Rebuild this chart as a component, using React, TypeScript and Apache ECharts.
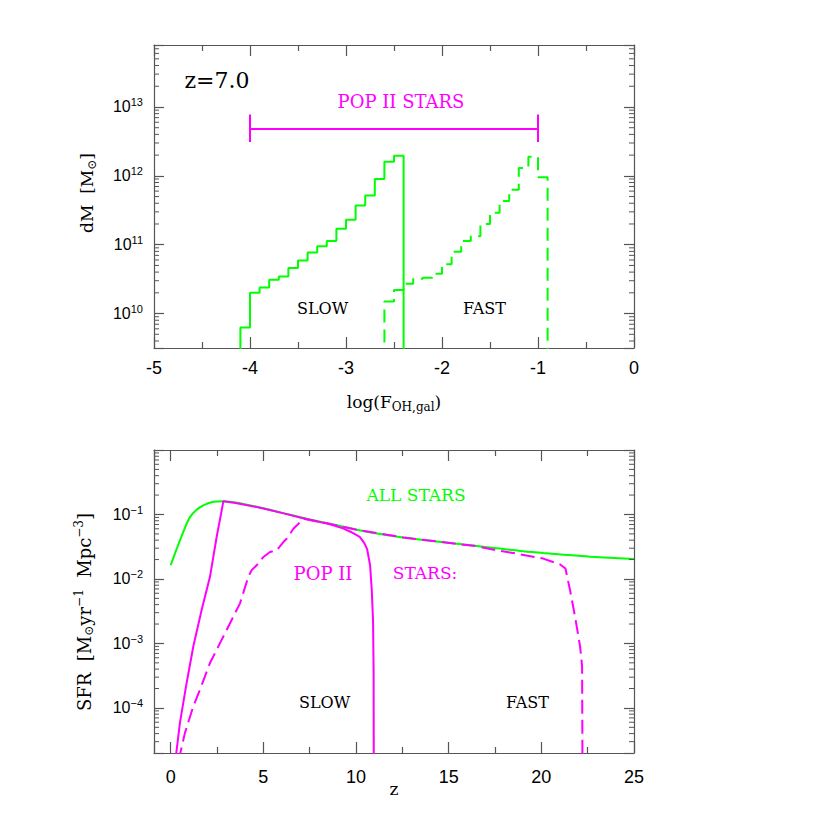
import React, { useEffect, useRef } from 'react';
import * as echarts from 'echarts';

// ---------- Top panel: mass histograms at z = 7 ----------
const slowEdges = [-4.1, -4.0, -3.9, -3.8, -3.7, -3.6, -3.5, -3.4, -3.3, -3.2, -3.1, -3.0, -2.9, -2.8, -2.7, -2.6, -2.5, -2.4];
const slowMass = [6.3e9, 2.0e10, 2.4e10, 3.1e10, 3.45e10, 4.6e10, 5.9e10, 7.7e10, 9.5e10, 1.13e11, 1.7e11, 2.3e11, 3.7e11, 5.2e11, 9.0e11, 1.6e12, 1.95e12];
const fastEdges = [-2.6, -2.5, -2.4, -2.3, -2.2, -2.1, -2.0, -1.9, -1.8, -1.7, -1.6, -1.5, -1.4, -1.3, -1.2, -1.1, -1.0, -0.9];
const fastMass = [1.5e10, 2.2e10, 2.7e10, 3.2e10, 3.3e10, 3.8e10, 5.2e10, 7.9e10, 1.13e11, 1.33e11, 2.0e11, 2.9e11, 4.3e11, 6.3e11, 1.3e12, 1.9e12, 9.5e11];
const histFloor = 1e9;
const popIIRange = [-4, -1];
const popIILevel = 4.9e12;
const popIICap = [3.1e12, 7.8e12];

const topXTicks = [-5, -4, -3, -2, -1, 0];
const topYExps = [10, 11, 12, 13];
const topYRange = [Math.pow(10, 9.5), Math.pow(10, 13.9)];

// ---------- Bottom panel: SFR vs z ----------
const allZ = [0, 0.23, 0.5, 0.77, 1.04, 1.4, 1.76, 2.3, 2.84, 3.92, 5.0, 6.08, 7.34, 8.6, 10.04, 11.47, 12.55, 13.8, 15.07, 16.33, 17.59, 18.85, 20.1, 21.37, 22.63, 25];
const allSFR = [0.0163, 0.0247, 0.0397, 0.0622, 0.091, 0.118, 0.138, 0.157, 0.160, 0.146, 0.125, 0.105, 0.0858, 0.0718, 0.058, 0.049, 0.0441, 0.0397, 0.0361, 0.0329, 0.0299, 0.0272, 0.0253, 0.0236, 0.0222, 0.0204];

const slowZ = [0.25, 0.5, 0.86, 1.22, 1.67, 2.12, 2.48, 2.75, 2.84, 3.5, 5.0, 6.1, 7.3, 8.5, 9.3, 9.7, 10.2, 10.45, 10.6, 10.76, 10.85, 10.92, 10.95, 10.96];
const slowSFR = [1.5e-5, 5.9e-5, 2.44e-4, 8.95e-4, 3.3e-3, 0.0108, 0.0447, 0.115, 0.160, 0.151, 0.124, 0.104, 0.085, 0.0715, 0.061, 0.054, 0.045, 0.036, 0.029, 0.0163, 0.0068, 0.0022, 3.5e-4, 1e-5];

const fastZ = [0.42, 0.77, 1.22, 1.58, 2.12, 2.66, 3.02, 3.29, 3.74, 4.19, 4.37, 4.64, 5.0, 5.36, 5.72, 6.08, 6.26, 6.62, 6.8, 7.16, 8.6, 10.04, 12.55, 15.07, 16.5, 17.6, 18.67, 20.1, 21.0, 21.3, 21.55, 21.82, 22.09, 22.2, 22.22];
const fastSFR = [1.5e-5, 4.1e-5, 1.06e-4, 1.92e-4, 4.97e-4, 1.01e-3, 1.62e-3, 2.31e-3, 4.19e-3, 0.0108, 0.0137, 0.0163, 0.0219, 0.0262, 0.0278, 0.0374, 0.0421, 0.0601, 0.0676, 0.0859, 0.0715, 0.058, 0.0441, 0.0361, 0.0322, 0.0278, 0.0247, 0.0207, 0.0169, 0.0145, 6.7e-3, 2.6e-3, 9e-4, 4.4e-4, 1e-5];

const botXTicks = [0, 5, 10, 15, 20, 25];
const botXRange = [-0.9, 25];
const botYExps = [-4, -3, -2, -1];
const botYRange = [2e-5, 1];

// ---------- styling ----------
const GREEN = '#00ff00';
const MAGENTA = '#ff00ff';
const AXIS = '#555';
const SERIF = '"DejaVu Serif", serif';
const SANS = '"Liberation Sans", Arial, sans-serif';

const GRID_LEFT = 154;
const GRID_W = 480;
const GRID_H = 303;
const TOP1 = 45;
const TOP2 = 450;

function stepPoints(edges: number[], vals: number[]) {
  const pts: number[][] = [[edges[0], histFloor]];
  vals.forEach((v, i) => {
    pts.push([edges[i], v]);
    pts.push([edges[i + 1], v]);
  });
  pts.push([edges[edges.length - 1], histFloor]);
  return pts;
}

function zip(a: number[], b: number[]) {
  return a.map((x, i) => [x, b[i]]);
}

function minorLogValues(range: number[]) {
  const out: number[] = [];
  const lo = Math.floor(Math.log10(range[0]));
  const hi = Math.ceil(Math.log10(range[1]));
  for (let k = lo; k <= hi; k++) {
    for (let m = 2; m <= 9; m++) {
      const v = m * Math.pow(10, k);
      if (v > range[0] && v < range[1]) out.push(v);
    }
  }
  return out;
}

const lineStyleAxis = { color: AXIS, width: 1.2 };

function logLabelFormatter(exps: number[]) {
  return (v: number) => {
    const l = Math.log10(v);
    const e = Math.round(l);
    if (Math.abs(l - e) > 1e-6 || exps.indexOf(e) < 0) return '';
    const s = e < 0 ? '\u2212' + Math.abs(e) : String(e);
    return '{b|10}{p|' + s + '}';
  };
}

const logRich = {
  b: { fontFamily: SANS, fontSize: 16, color: '#000' },
  p: { fontFamily: SANS, fontSize: 11, color: '#000', padding: [0, 0, 9, 0] },
};

function xAxes(gridIndex: number, min: number, max: number, ticks: number[], opts: any) {
  const base = {
    type: 'value',
    gridIndex,
    min,
    max,
    axisLine: { show: true, onZero: false, lineStyle: lineStyleAxis },
    axisTick: { show: true, inside: true, length: 11, lineStyle: lineStyleAxis },
    minorTick: { show: true, splitNumber: 2, length: 6, lineStyle: lineStyleAxis },
    splitLine: { show: false },
    minorSplitLine: { show: false },
    ...opts,
  };
  return [
    {
      ...base,
      position: 'bottom',
      axisLabel: {
        show: true,
        fontFamily: SANS,
        fontSize: 18,
        color: '#000',
        margin: opts.labelMargin,
        formatter: (v: number) => (ticks.indexOf(Math.round(v * 1000) / 1000) >= 0 ? String(v) : ''),
      },
    },
    { ...base, position: 'top', axisLabel: { show: false } },
  ];
}

function yAxes(gridIndex: number, range: number[], exps: number[]) {
  const base = {
    type: 'log',
    logBase: 10,
    gridIndex,
    min: range[0],
    max: range[1],
    axisLine: { show: true, onZero: false, lineStyle: lineStyleAxis },
    axisTick: { show: true, inside: true, length: 10, lineStyle: lineStyleAxis },
    minorTick: { show: false },
    splitLine: { show: false },
  };
  return [
    {
      ...base,
      position: 'left',
      axisLabel: { show: true, margin: 11, formatter: logLabelFormatter(exps), rich: logRich },
    },
    { ...base, position: 'right', axisLabel: { show: false } },
  ];
}

function minorTickSeries(xi: number, yi: number, xPos: number, vals: number[]) {
  return {
    type: 'custom',
    xAxisIndex: xi,
    yAxisIndex: yi,
    silent: true,
    clip: false,
    z: 5,
    data: vals.map((v) => [xPos, v]),
    renderItem: (params: any, api: any) => {
      const cs = params.coordSys;
      const y = api.coord([api.value(0), api.value(1)])[1];
      const st = { stroke: AXIS, lineWidth: 1 };
      return {
        type: 'group',
        children: [
          { type: 'line', shape: { x1: cs.x, y1: y, x2: cs.x + 5, y2: y }, style: st },
          { type: 'line', shape: { x1: cs.x + cs.width - 5, y1: y, x2: cs.x + cs.width, y2: y }, style: st },
        ],
      };
    },
  };
}

function txt(text: string, x: number, y: number, size: number, color: string, extra: any = {}) {
  return {
    type: 'text',
    x,
    y,
    z: 100,
    ...extra,
    style: {
      text,
      fill: color,
      font: `${size}px ${SERIF}`,
      fontFamily: SERIF,
      fontSize: size,
      align: 'center',
      verticalAlign: 'middle',
      textAlign: 'center',
      textVerticalAlign: 'middle',
      ...(extra.style || {}),
    },
  };
}

const serifRich = (size: number, sub: number, shift: number) => ({
  n: { fontFamily: SERIF, fontSize: size, color: '#000' },
  s: { fontFamily: SERIF, fontSize: sub, color: '#000', padding: [shift, 0, 0, 0] },
  p: { fontFamily: SERIF, fontSize: sub, color: '#000', padding: [0, 0, shift, 0] },
});

function buildOption() {
  return {
    animation: false,
    backgroundColor: '#fff',
    grid: [
      { left: GRID_LEFT, top: TOP1, width: GRID_W, height: GRID_H, containLabel: false },
      { left: GRID_LEFT, top: TOP2, width: GRID_W, height: GRID_H, containLabel: false },
    ],
    xAxis: [
      ...xAxes(0, -5, 0, topXTicks, { interval: 1, labelMargin: 11 }),
      ...xAxes(1, botXRange[0], botXRange[1], botXTicks, { splitNumber: 5, labelMargin: 15 }),
    ],
    yAxis: [...yAxes(0, topYRange, topYExps), ...yAxes(1, botYRange, botYExps)],
    series: [
      minorTickSeries(0, 0, -5, minorLogValues(topYRange)),
      minorTickSeries(2, 2, 0, minorLogValues(botYRange)),
      {
        type: 'line',
        name: 'slow',
        xAxisIndex: 0,
        yAxisIndex: 0,
        data: stepPoints(slowEdges, slowMass),
        showSymbol: false,
        symbol: 'none',
        lineStyle: { color: GREEN, width: 2 },
        z: 3,
      },
      {
        type: 'line',
        name: 'fast',
        xAxisIndex: 0,
        yAxisIndex: 0,
        data: stepPoints(fastEdges, fastMass),
        showSymbol: false,
        symbol: 'none',
        lineStyle: { color: GREEN, width: 2, type: [13, 7] },
        z: 3,
      },
      {
        type: 'lines',
        coordinateSystem: 'cartesian2d',
        xAxisIndex: 0,
        yAxisIndex: 0,
        lineStyle: { color: MAGENTA, width: 2, opacity: 1 },
        data: [
          { coords: [[popIIRange[0], popIILevel], [popIIRange[1], popIILevel]] },
          { coords: [[popIIRange[0], popIICap[0]], [popIIRange[0], popIICap[1]]] },
          { coords: [[popIIRange[1], popIICap[0]], [popIIRange[1], popIICap[1]]] },
        ],
        z: 3,
      },
      {
        type: 'line',
        name: 'all',
        xAxisIndex: 2,
        yAxisIndex: 2,
        data: zip(allZ, allSFR),
        showSymbol: false,
        symbol: 'none',
        smooth: 0.3,
        lineStyle: { color: GREEN, width: 2 },
        z: 2,
      },
      {
        type: 'line',
        name: 'popII slow',
        xAxisIndex: 2,
        yAxisIndex: 2,
        data: zip(slowZ, slowSFR),
        showSymbol: false,
        symbol: 'none',
        lineStyle: { color: MAGENTA, width: 2 },
        z: 3,
      },
      {
        type: 'line',
        name: 'popII fast',
        xAxisIndex: 2,
        yAxisIndex: 2,
        data: zip(fastZ, fastSFR),
        showSymbol: false,
        symbol: 'none',
        lineStyle: { color: MAGENTA, width: 2, type: [14, 6] },
        z: 3,
      },
    ],
    graphic: {
      elements: [
        txt('z=7.0', 217, 80, 22, '#000'),
        txt('POP II STARS', 401, 101, 18, MAGENTA),
        txt('SLOW', 322.5, 308, 16, '#000'),
        txt('FAST', 484.5, 308, 16, '#000'),
        txt('ALL STARS', 416, 495, 17, GREEN),
        txt('POP II', 323, 573, 18, MAGENTA),
        txt('STARS:', 425, 573, 17, MAGENTA),
        txt('SLOW', 324.5, 702.5, 16, '#000'),
        txt('FAST', 527.5, 702.5, 16, '#000'),
        txt('', 87, 193, 17, '#000', {
          rotation: Math.PI / 2,
          style: { text: '{n|dM  [M}{s|\u2299}{n|]}', rich: serifRich(17, 12, 9) },
        }),
        txt('', 394, 402, 17, '#000', {
          style: { text: '{n|log(F}{s|OH,gal}{n|)}', rich: serifRich(17, 12, 9) },
        }),
        txt('z', 394, 789, 17, '#000'),
        txt('', 84, 612, 18, '#000', {
          rotation: Math.PI / 2,
          style: {
            text: '{n|SFR  [M}{s|\u2299}{n|yr}{p|\u22121}{n|  Mpc}{p|\u22123}{n|]}',
            rich: serifRich(18, 12, 10),
          },
        }),
      ],
    },
  };
}

export default function App() {
  const ref = useRef<HTMLDivElement>(null);
  useEffect(() => {
    if (!ref.current) return;
    const chart = echarts.init(ref.current, null, { renderer: 'svg' });
    chart.setOption(buildOption() as any);
    return () => chart.dispose();
  }, []);
  return (
    <div
      ref={ref}
      style={{ position: 'fixed', left: 0, top: 0, width: 830, height: 830, background: '#fff' }}
    />
  );
}
